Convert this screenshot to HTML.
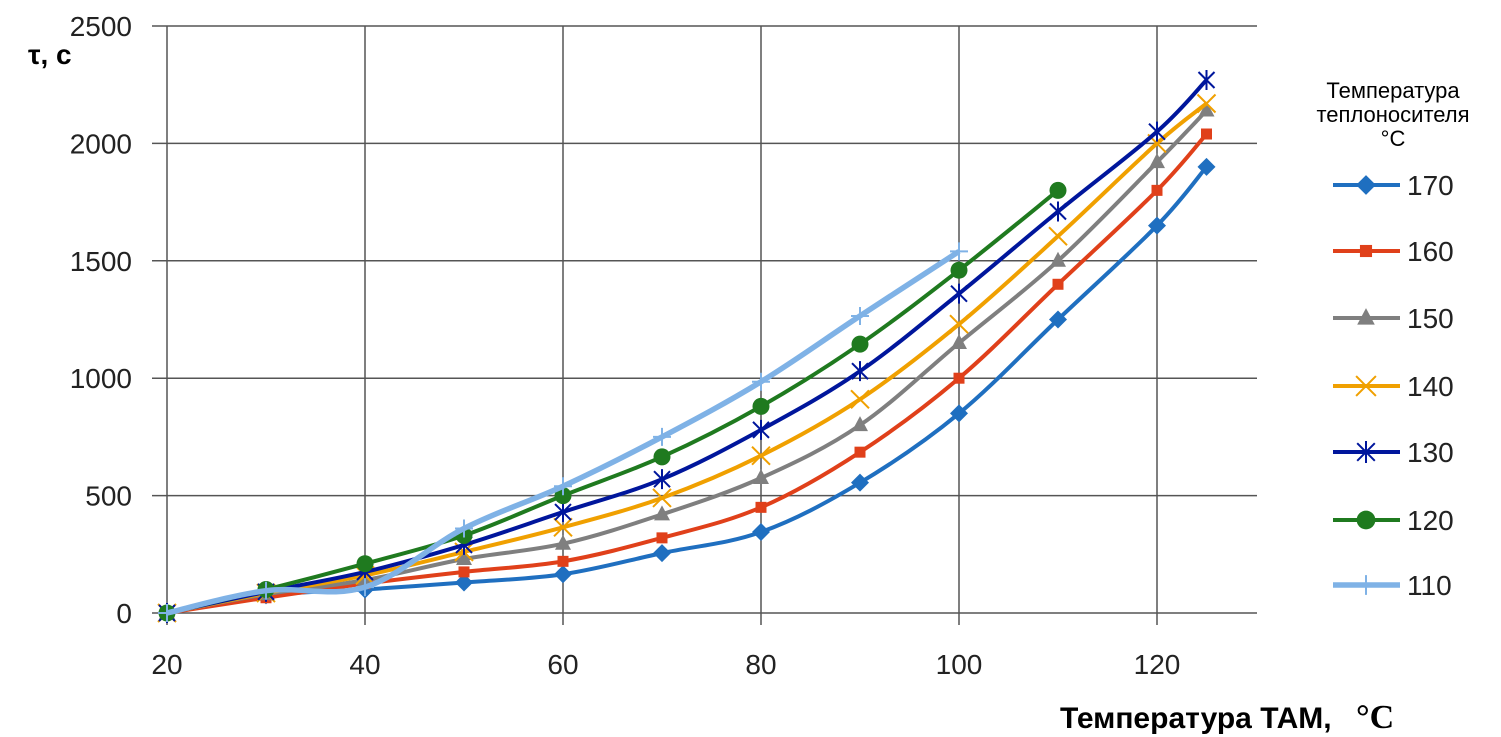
<!DOCTYPE html>
<html><head><meta charset="utf-8"><style>
body{margin:0;background:#fff;}
svg{display:block;font-family:"Liberation Sans",sans-serif;}
</style></head><body>
<svg id="chart" width="1501" height="737">
<g id="grid"></g><g id="series"></g><g id="legend"></g>
<text x="28" y="64" font-size="28" font-weight="bold">τ, с</text>
<text x="1060" y="728" font-size="30" font-weight="bold">Температура ТАМ, <tspan font-family="Liberation Serif,serif" font-size="34" dx="16">°C</tspan></text>
<text x="1393" y="98" font-size="22" text-anchor="middle"><tspan x="1393">Температура</tspan><tspan x="1393" dy="24">теплоносителя</tspan><tspan x="1393" dy="24">°C</tspan></text>
</svg>
<script>
const xVals=[20,30,40,50,60,70,80,90,100,110,120,125];
const seriesNames=["170","160","150","140","130","120","110"];
const s170=[0,75,100,130,165,255,345,555,850,1250,1650,1900];
const s160=[0,65,125,175,220,320,450,685,1000,1400,1800,2040];
const s150=[0,80,140,230,295,420,575,800,1150,1500,1920,2140];
const s140=[0,85,160,260,365,490,670,910,1230,1605,2000,2170];
const s130=[0,90,175,290,430,570,780,1030,1360,1710,2050,2270];
const s120=[0,100,210,330,500,665,880,1145,1460,1800];
const s110=[0,95,110,360,540,750,985,1265,1540];
const xTicks=[20,40,60,80,100,120];
const yTicks=[0,500,1000,1500,2000,2500];
const allSeries=[s170,s160,s150,s140,s130,s120,s110];
const colors=["#1f6fc0","#e0401a","#7f7f7f","#f0a000","#00169c","#1f7a1f","#7fb2e6"];
const markers=["diamond","square","triangle","x","star","circle","plus"];
const NS="http://www.w3.org/2000/svg";
const X=v=>167+(v-20)*9.9;
const Y=v=>613-v*0.2348;
function mk(tag,attrs,parent){const e=document.createElementNS(NS,tag);for(const k in attrs)e.setAttribute(k,attrs[k]);parent.appendChild(e);return e;}
const grid=document.getElementById('grid');
yTicks.forEach(t=>{
  const l=mk('line',{x1:152,x2:1257,y1:Y(t),y2:Y(t),stroke:'#555','stroke-width':1.5},grid);
  
  
  const tx=mk('text',{x:132,y:Y(t)+10,'font-size':28,'text-anchor':'end',fill:'#222'},grid);tx.textContent=t;
  
  
});
xTicks.forEach(t=>{
  const l=mk('line',{x1:X(t),x2:X(t),y1:Y(2500),y2:625,stroke:'#555','stroke-width':1.5},grid);
  
  
  const tx=mk('text',{x:X(t),y:674,'font-size':28,'text-anchor':'middle',fill:'#222'},grid);tx.textContent=t;
  
  
});
function pathD(pts){
  let d=`M${pts[0][0]},${pts[0][1]}`;
  for(let i=0;i<pts.length-1;i++){
    const p0=pts[Math.max(0,i-1)],p1=pts[i],p2=pts[i+1],p3=pts[Math.min(pts.length-1,i+2)];
    const t=0.17;
    d+=` C${p1[0]+(p2[0]-p0[0])*t},${p1[1]+(p2[1]-p0[1])*t} ${p2[0]-(p3[0]-p1[0])*t},${p2[1]-(p3[1]-p1[1])*t} ${p2[0]},${p2[1]}`;
  }return d;}
function marker(type,x,y,c,g,s){
  s=s||1;
  if(type==='diamond')return mk('polygon',{points:`${x},${y-9*s} ${x+9*s},${y} ${x},${y+9*s} ${x-9*s},${y}`,fill:c},g);
  if(type==='square')return mk('rect',{x:x-5.5*s,y:y-5.5*s,width:11*s,height:11*s,fill:c},g);
  if(type==='triangle')return mk('polygon',{points:`${x},${y-9*s} ${x+8*s},${y+6*s} ${x-8*s},${y+6*s}`,fill:c},g);
  if(type==='circle')return mk('circle',{cx:x,cy:y,r:8.5*s,fill:c},g);
  if(type==='x')return mk('path',{d:`M${x-9*s},${y-9*s}L${x+9*s},${y+9*s}M${x+9*s},${y-9*s}L${x-9*s},${y+9*s}`,stroke:c,'stroke-width':2,fill:'none'},g);
  if(type==='star')return mk('path',{d:`M${x-8*s},${y-8*s}L${x+8*s},${y+8*s}M${x+8*s},${y-8*s}L${x-8*s},${y+8*s}M${x},${y-10*s}L${x},${y+10*s}`,stroke:c,'stroke-width':2,fill:'none'},g);
  return mk('path',{d:`M${x-9*s},${y}L${x+9*s},${y}M${x},${y-9*s}L${x},${y+9*s}`,stroke:c,'stroke-width':2,fill:'none'},g);
}
const sg=document.getElementById('series');
allSeries.forEach((arr,i)=>{
  const g=mk('g',{},sg);
  
  
  const pts=arr.map((v,j)=>[X(xVals[j]),Y(v)]);
  mk('path',{d:pathD(pts),stroke:colors[i],'stroke-width':i===6?5.5:4,fill:'none'},g);
  pts.forEach(p=>{const m=marker(markers[i],p[0],p[1],colors[i],g);
    
    });
});
const lg=document.getElementById('legend');
const ly=[185,251,318,386,452,520,585];
seriesNames.forEach((n,i)=>{
  const g=mk('g',{},lg);
  
  
  mk('line',{x1:1333,x2:1400,y1:ly[i],y2:ly[i],stroke:colors[i],'stroke-width':i===6?5.5:4},g);
  marker(markers[i],1366,ly[i],colors[i],g,1.1);
  const t=mk('text',{x:1407,y:ly[i]+10,'font-size':28,fill:'#222'},g);t.textContent=n;
});
</script>
</body></html>
